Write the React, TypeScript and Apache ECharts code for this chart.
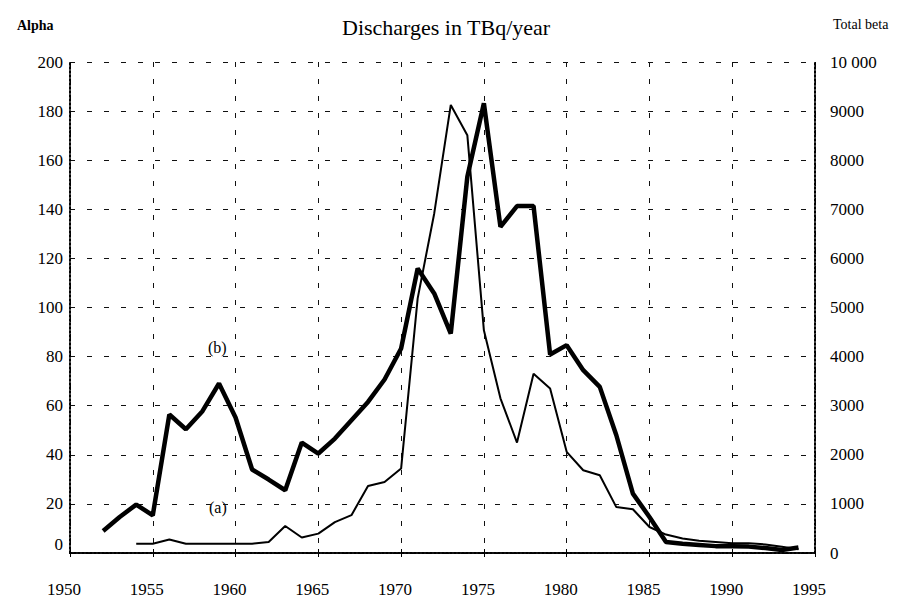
import React, { useEffect, useRef } from "react";
import * as echarts from "echarts";

const alphaYears = [1954,1955,1956,1957,1958,1959,1960,1961,1962,1963,1964,1965,1966,1967,1968,1969,1970,1971,1972,1973,1974,1975,1976,1977,1978,1979,1980,1981,1982,1983,1984,1985,1986,1987,1988,1989,1990,1991,1992,1993,1994];
const alphaValues = [3.8,3.8,5.5,3.8,3.8,3.8,3.8,3.8,4.5,11,6.3,7.9,12.6,15.4,27.3,28.9,34.4,103.7,138.3,182.5,170.2,90.7,63,45,73,67,41.2,33.7,31.7,18.7,17.8,10.6,7.5,5.9,5,4.5,4,4,3.5,2.5,1.5];

const betaYears = [1952,1953,1954,1955,1956,1957,1958,1959,1960,1961,1962,1963,1964,1965,1966,1967,1968,1969,1970,1971,1972,1973,1974,1975,1976,1977,1978,1979,1980,1981,1982,1983,1984,1985,1986,1987,1988,1989,1990,1991,1992,1993,1994];
const betaValues = [450,733,986,768,2820,2520,2888,3452,2760,1700,1496,1278,2250,2026,2331,2704,3077,3533,4165,5795,5286,4470,7662,9158,6644,7066,7066,4043,4233,3723,3383,2398,1210,733,224,190,165,140,136,130,100,60,110];

const FONT = '"Liberation Serif", "Times New Roman", serif';

export default function App() {
  const ref = useRef<HTMLDivElement>(null);
  useEffect(() => {
    if (!ref.current) return;
    const chart = echarts.init(ref.current, null, { renderer: "svg" });
    const dotted = { type: "dotted" as const, color: "#000", width: 2 };
    const dashed = { type: [5, 12] as any, color: "#111", width: 1 };
    chart.setOption({
      animation: false,
      backgroundColor: "#fff",
      title: [
        { text: "Discharges in TBq/year", left: 337, top: 11, textStyle: { fontFamily: FONT, fontSize: 22, fontWeight: "normal", color: "#000" } },
        { text: "Alpha", left: 12, top: 13, textStyle: { fontFamily: FONT, fontSize: 14, fontWeight: "bold", color: "#000" } },
        { text: "Total beta", left: 828, top: 12, textStyle: { fontFamily: FONT, fontSize: 14, fontWeight: "normal", color: "#000" } },
      ],
      grid: { left: 70, right: 88, top: 62, bottom: 48 },
      xAxis: [
        {
          type: "value", min: 1950, max: 1995, interval: 5, position: "bottom",
          axisLine: { show: true, lineStyle: dotted },
          axisTick: { show: true, inside: true, length: 4, lineStyle: { color: "#000" } },
          axisLabel: { fontFamily: FONT, fontSize: 17, color: "#000", margin: 28, padding: [0, 12, 0, 0], formatter: (v: number) => String(v) },
          splitLine: { show: true, lineStyle: dashed },
        },
        {
          type: "value", min: 1950, max: 1995, interval: 5, position: "top",
          axisLine: { show: true, lineStyle: dotted },
          axisTick: { show: true, inside: true, length: 4, lineStyle: { color: "#000" } },
          axisLabel: { show: false },
          splitLine: { show: false },
        },
      ],
      yAxis: [
        {
          type: "value", min: 0, max: 200, interval: 20, position: "left",
          axisLine: { show: true, lineStyle: dotted },
          axisTick: { show: false },
          axisLabel: {
            fontFamily: FONT, fontSize: 17, color: "#000", margin: 7,
            formatter: (v: number) => (v === 0 ? "{z|0}" : String(v)),
            rich: { z: { fontFamily: FONT, fontSize: 17, color: "#000", padding: [0, 0, 18, 0] } },
          },
          splitLine: { show: true, lineStyle: dashed },
        },
        {
          type: "value", min: 0, max: 10000, interval: 1000, position: "right",
          axisLine: { show: true, lineStyle: dotted },
          axisTick: { show: false },
          axisLabel: {
            fontFamily: FONT, fontSize: 17, color: "#000", margin: 15, align: "left",
            formatter: (v: number) => (v === 10000 ? "10 000" : String(v)),
          },
          splitLine: { show: false },
        },
      ],
      series: [
        {
          name: "(a) Alpha", type: "line", xAxisIndex: 0, yAxisIndex: 0, symbol: "none",
          lineStyle: { color: "#000", width: 2 },
          data: alphaYears.map((y, i) => [y, alphaValues[i]]),
          z: 3,
        },
        {
          name: "(b) Total beta", type: "line", xAxisIndex: 0, yAxisIndex: 1, symbol: "none",
          lineStyle: { color: "#000", width: 4.5 },
          data: betaYears.map((y, i) => [y, betaValues[i]]),
          z: 4,
        },
      ],
      graphic: [
        { type: "text", left: 208, top: 339, style: { text: "(b)", font: `16px ${FONT}`, fill: "#000" } },
        { type: "text", left: 209, top: 499, style: { text: "(a)", font: `16px ${FONT}`, fill: "#000" } },
      ],
    });
    return () => chart.dispose();
  }, []);
  return <div ref={ref} style={{ width: 903, height: 601, position: "absolute", left: 0, top: 0 }} />;
}
